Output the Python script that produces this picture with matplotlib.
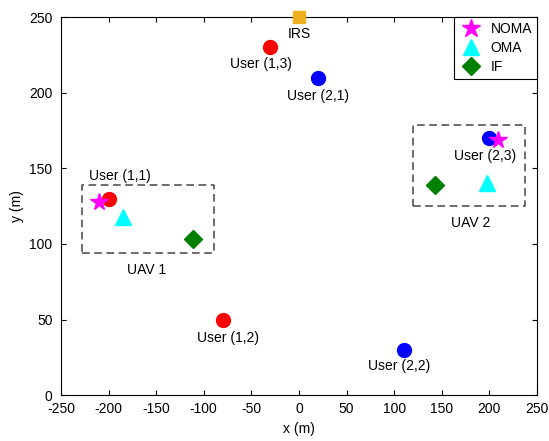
import matplotlib.pyplot as plt
import numpy as np

plt.rcParams['font.family'] = ['Liberation Sans', 'DejaVu Sans']
plt.rcParams['axes.unicode_minus'] = False

# users: name, x, y, colour
user_names = ['User (1,1)', 'User (1,2)', 'User (1,3)', 'User (2,1)', 'User (2,2)', 'User (2,3)']
user_x = [-200, -80, -30, 20, 110, 200]
user_y = [130, 50, 230, 210, 30, 170]
user_col = ['red', 'red', 'red', 'blue', 'blue', 'blue']

irs_x, irs_y = 0, 250

# UAV positions per scheme
noma_x = [-210, 209]
noma_y = [128, 169]
oma_x = [-185, 198]
oma_y = [118, 140]
if_x = [-111, 143]
if_y = [103, 139]

# UAV areas (x0, x1, y0, y1)
boxes = [(-228, -89, 94, 139), (120, 237, 125, 179)]
box_names = ['UAV 1', 'UAV 2']
box_label_pos = [(-160, 83), (180, 114)]

# label offsets (data units) for user names
label_pos = [(-188, 145), (-75, 38), (-40, 219), (20, 198), (105, 19), (195, 158)]

fig = plt.figure(figsize=(5.49, 4.41), dpi=100)
ax = fig.add_axes([0.111, 0.104, 0.867, 0.857])

for i in range(len(user_x)):
    ax.plot(user_x[i], user_y[i], 'o', color=user_col[i], markersize=10, zorder=3)
    ax.text(label_pos[i][0], label_pos[i][1], user_names[i], ha='center', va='center', fontsize=10)

ax.plot(irs_x, irs_y, 's', color='#EDB120', markersize=9, clip_on=False, zorder=4)
ax.text(irs_x, 239, 'IRS', ha='center', va='center', fontsize=10)

h1, = ax.plot(noma_x, noma_y, '*', color='magenta', markersize=13, linestyle='none', zorder=4, label='NOMA')
h2, = ax.plot(oma_x, oma_y, '^', color='cyan', markersize=11, linestyle='none', zorder=4, label='OMA')
h3, = ax.plot(if_x, if_y, 'D', color='green', markersize=9, linestyle='none', zorder=4, label='IF')

for (x0, x1, y0, y1), name, pos in zip(boxes, box_names, box_label_pos):
    ax.plot([x0, x1, x1, x0, x0], [y0, y0, y1, y1, y0], '--', color='#444444', lw=1.1, dashes=(5, 3))
    ax.text(pos[0], pos[1], name, ha='center', va='center', fontsize=10)

ax.set_xlim(-250, 250)
ax.set_ylim(0, 250)
ax.set_xticks(np.arange(-250, 251, 50))
ax.set_yticks(np.arange(0, 251, 50))
ax.tick_params(direction='in', top=True, right=True, labelsize=10)
ax.tick_params(axis='x', pad=5)
ax.tick_params(axis='y', pad=6)
ax.set_xlabel('x (m)', fontsize=10)
ax.set_ylabel('y (m)', fontsize=10)

leg = ax.legend(handles=[h1, h2, h3], loc='upper right', fontsize=10, fancybox=False,
                edgecolor='black', framealpha=1, borderaxespad=0, handletextpad=0.5,
                handlelength=1.8, labelspacing=0.35, borderpad=0.35, markerscale=1.05)
leg.get_frame().set_linewidth(0.8)

fig.savefig('out.png', dpi=100)
